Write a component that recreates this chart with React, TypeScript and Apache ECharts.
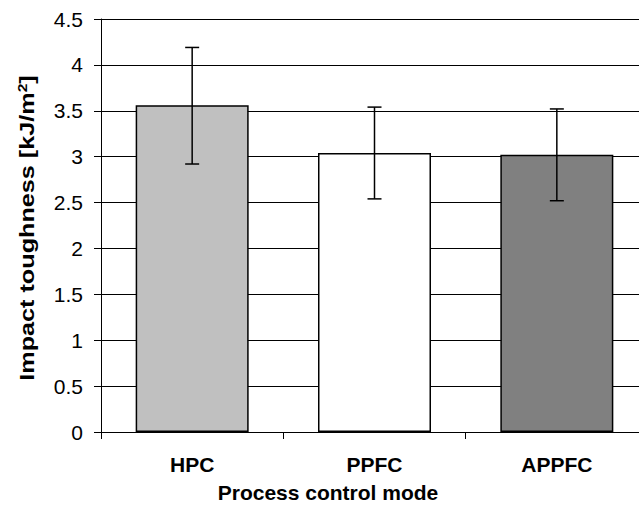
import React, { useEffect, useRef } from "react";
import * as echarts from "echarts";

const categories = ["HPC", "PPFC", "APPFC"];
const meanValues = [3.56, 3.04, 3.02];
const errLow = [2.92, 2.54, 2.52];
const errHigh = [4.19, 3.54, 3.52];
const barColors = ["#C0C0C0", "#FFFFFF", "#808080"];
const Y_MIN = 0;
const Y_MAX = 4.5;
const Y_STEP = 0.5;

const FONT = '"Liberation Sans", Arial, sans-serif';

export default function App() {
  const ref = useRef<HTMLDivElement>(null);

  useEffect(() => {
    if (!ref.current) return;
    const chart = echarts.init(ref.current, undefined, { renderer: "svg" });
    chart.setOption({
      animation: false,
      backgroundColor: "#FFFFFF",
      grid: { left: 101, top: 19, width: 547, height: 413, outerBoundsMode: "none", containLabel: false },
      xAxis: {
        type: "category",
        data: categories,
        boundaryGap: true,
        axisLine: { show: true, lineStyle: { color: "#000", width: 1 } },
        axisTick: { show: true, length: 7, lineStyle: { color: "#000", width: 1 } },
        axisLabel: {
          margin: 22,
          fontSize: 21,
          fontWeight: "bold",
          color: "#000",
          fontFamily: FONT,
        },
        splitLine: { show: false },
      },
      yAxis: {
        type: "value",
        min: Y_MIN,
        max: Y_MAX,
        interval: Y_STEP,
        axisLine: { show: true, lineStyle: { color: "#000", width: 1 } },
        axisTick: { show: true, length: 7, lineStyle: { color: "#000", width: 1 } },
        axisLabel: {
          margin: 18,
          fontSize: 21,
          color: "#000",
          fontFamily: FONT,
        },
        splitLine: { show: true, lineStyle: { color: "#000", width: 1 } },
      },
      series: [
        {
          type: "bar",
          barWidth: 113,
          data: meanValues.map((v, i) => ({
            value: v,
            itemStyle: { color: barColors[i], borderColor: "#000", borderWidth: 1.5 },
          })),
          z: 2,
        },
        {
          type: "custom",
          z: 5,
          data: categories.map((_, i) => [i, errLow[i], errHigh[i]]),
          encode: { x: 0, y: [1, 2] },
          renderItem: (params: any, api: any) => {
            const x = api.value(0);
            const lo = api.coord([x, api.value(1)]);
            const hi = api.coord([x, api.value(2)]);
            const hw = 7;
            const st = { stroke: "#000", lineWidth: 1.5 };
            return {
              type: "group",
              children: [
                { type: "line", shape: { x1: hi[0], y1: hi[1], x2: lo[0], y2: lo[1] }, style: st },
                { type: "line", shape: { x1: hi[0] - hw, y1: hi[1], x2: hi[0] + hw, y2: hi[1] }, style: st },
                { type: "line", shape: { x1: lo[0] - hw, y1: lo[1], x2: lo[0] + hw, y2: lo[1] }, style: st },
              ],
            };
          },
        },
      ],
      graphic: [
        {
          type: "text",
          x: 27,
          y: 228,
          rotation: Math.PI / 2,
          scaleX: 1.2,
          style: {
            text: "Impact toughness [kJ/m{sup|2}]",
            fontSize: 21,
            fontWeight: "bold",
            fontFamily: FONT,
            fill: "#000",
            align: "center",
            verticalAlign: "middle",
            rich: {
              sup: {
                fontSize: 13,
                fontWeight: "bold",
                fontFamily: FONT,
                verticalAlign: "top",
                padding: [0, 0, 10, 0],
              },
            },
          },
        },
        {
          type: "text",
          x: 328,
          y: 492,
          style: {
            text: "Process control mode",
            fontSize: 21,
            fontWeight: "bold",
            fontFamily: FONT,
            fill: "#000",
            align: "center",
            verticalAlign: "middle",
          },
        },
      ],
    });
    return () => chart.dispose();
  }, []);

  return (
    <div
      ref={ref}
      style={{ position: "absolute", left: 0, top: 0, width: 639, height: 529, background: "#fff" }}
    />
  );
}
